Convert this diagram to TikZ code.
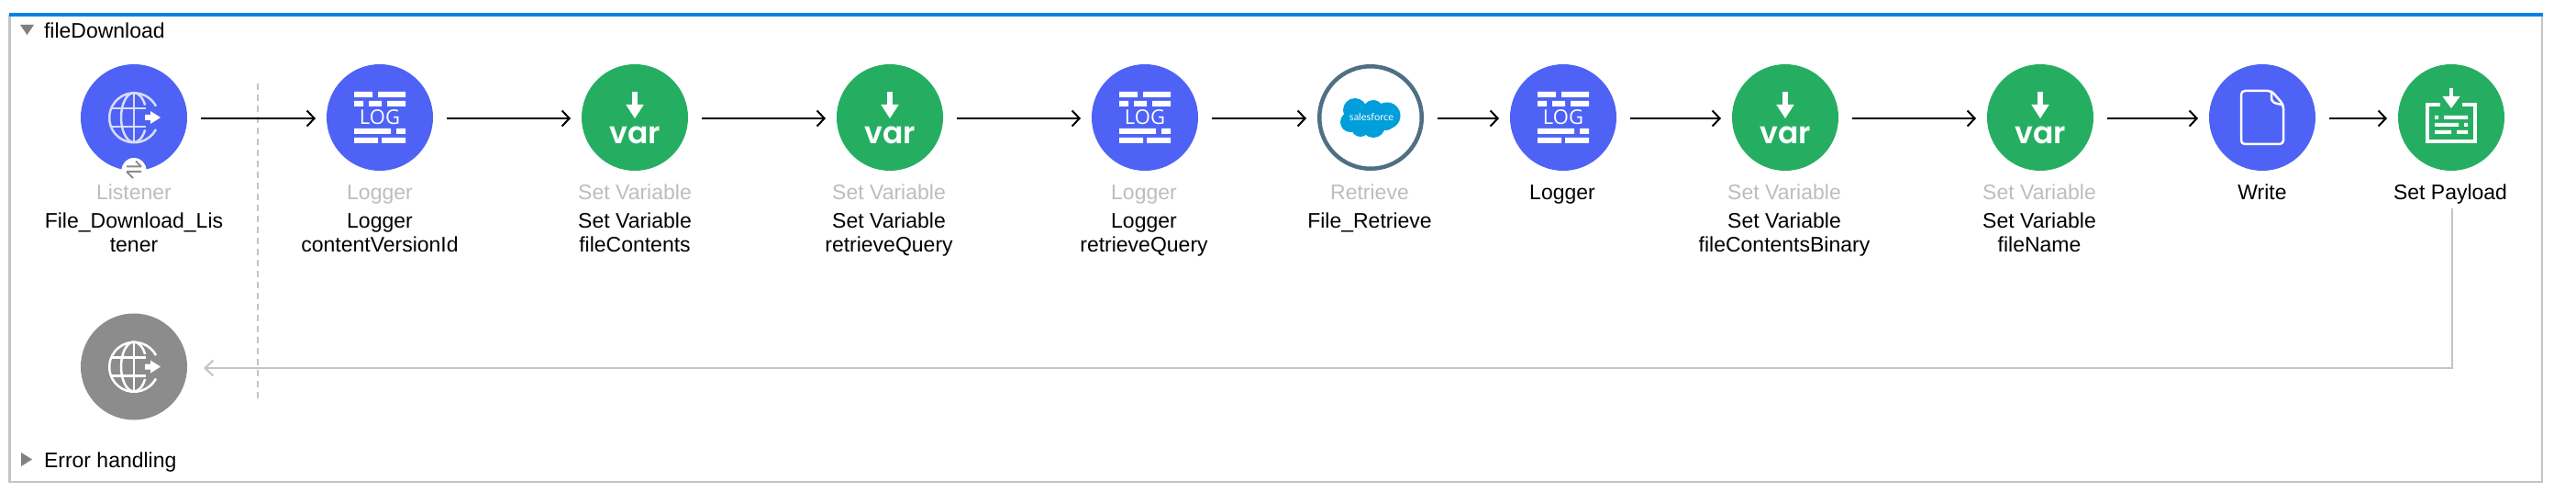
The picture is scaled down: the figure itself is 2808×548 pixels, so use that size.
\documentclass[tikz,border=0pt]{standalone}
\usepackage{fontspec}
\setmainfont{Liberation Sans}
\newfontfamily\varfont{Poppins SemiBold}
\newfontfamily\logfont{Open Sans}
\newfontfamily\sffont{Lato}
\usetikzlibrary{arrows.meta}
\definecolor{muleblue}{HTML}{4E62F5}
\definecolor{mulegreen}{HTML}{25AE62}
\definecolor{ringc}{HTML}{4F6F82}
\definecolor{sfblue}{HTML}{009EDB}
\definecolor{framegrey}{HTML}{C4C4C4}
\definecolor{topblue}{HTML}{0882E4}
\definecolor{globec}{HTML}{D8DCFB}
\tikzset{
  x=1pt,y=-1pt,
  every node/.style={inner sep=0pt,outer sep=0pt},
  bluec/.style={circle,fill=muleblue,minimum size=116pt},
  greenc/.style={circle,fill=mulegreen,minimum size=116pt},
  greyc/.style={circle,fill=black!45,minimum size=116pt},
  ringn/.style={circle,draw=ringc,fill=white,line width=4.5pt,minimum size=111.5pt,outer sep=2.25pt},
  typelabel/.style={anchor=base,text=black!26,font=\fontsize{23}{27}\selectfont},
  namelabel/.style={anchor=base,text=black,font=\fontsize{23}{27}\selectfont},
  flow/.style={draw=black,line width=2pt,shorten <=15pt,shorten >=12pt,-{Straight Barb[length=8pt,width=17pt,line width=2pt]}},
  back/.style={draw=framegrey,line width=2pt,shorten >=18pt,-{Straight Barb[length=9pt,width=17pt,line width=2pt]}},
  logicon/.pic={
    \fill[white]
      (-28,-28) rectangle (-8,-22) (-2,-28) rectangle (28,-22)
      (-28,-18) rectangle (-18,-12) (-12,-18) rectangle (2,-12) (8,-18) rectangle (28,-12)
      (-28,12) rectangle (12,18) (18,12) rectangle (28,18)
      (-28,22) rectangle (-2,28) (2,22) rectangle (28,28);
    \node[text=white,font=\logfont\fontsize{22}{22}\selectfont] at (0,0) {LOG};
  },
  varicon/.pic={
    \fill[white] (-3.3,-28) rectangle (3.3,-13);
    \fill[white] (-9.7,-14) -- (9.7,-14) -- (0,1) -- cycle;
    \node[anchor=base,text=white,font=\varfont\fontsize{33}{33}\selectfont] at (0,29) {var};
  },
  globeicon/.pic={
    \begin{scope}[line width=2.5pt]
      \draw (24,13) arc[start angle=28,end angle=332,radius=27];
      \draw (0,-27) -- (0,27);
      \draw (0,-27) arc[start angle=-90,end angle=-270,x radius=14,y radius=27];
      \draw (0,-27) arc[start angle=-90,end angle=-30,x radius=14,y radius=27];
      \draw (0,27) arc[start angle=90,end angle=30,x radius=14,y radius=27];
      \draw (-24,-10) -- (13,-10) (-24,10) -- (13,10);
    \end{scope}
    \fill[white] (12,-3) -- (18,-3) -- (18,-7) -- (29,0) -- (18,7) -- (18,3) -- (12,3) -- cycle;
  },
  cloudicon/.pic={
    \fill[sfblue] (-17,-8) circle[radius=13];
    \fill[sfblue] (3,-8) circle[radius=11];
    \fill[sfblue] (18,-2) circle[radius=14.5];
    \fill[sfblue] (-22,5) circle[radius=11];
    \fill[sfblue] (-11,11) circle[radius=10];
    \fill[sfblue] (3,9) circle[radius=13];
    \fill[sfblue] (17,5) circle[radius=9];
    \fill[sfblue] (-20,-5) rectangle (20,10);
    \node[text=white,font=\sffont\fontsize{11}{11}\selectfont] at (1,-1) {salesforce};
  },
  fileicon/.pic={
    \draw[white,line width=2.5pt,line join=round,rounded corners=4pt]
      (10,-29) -- (-23,-29) -- (-23,29) -- (23,29) -- (23,-14) -- cycle;
    \draw[white,line width=2.5pt,line join=round] (10,-29) -- (10,-21) .. controls (10,-17) and (13,-15) .. (23,-14);
  },
  payloadicon/.pic={
    \draw[white,line width=4pt] (-12,-14) -- (-26,-14) -- (-26,26) -- (26,26) -- (26,-14) -- (12,-14);
    \fill[white] (-2,-32) rectangle (2,-22);
    \fill[white] (-9.5,-23) -- (9.5,-23) -- (0,-10) -- cycle;
    \fill[white] (-18,-2) rectangle (-14,2) (-8,-2) rectangle (18,2)
      (-18,6) rectangle (8,10) (14,6) rectangle (18,10)
      (-18,14) rectangle (0,18) (6,14) rectangle (18,18);
  }
}
\begin{document}
\begin{tikzpicture}
\useasboundingbox (0,0) rectangle (2808,548);
% frame
\draw[framegrey,line width=2.5pt] (10.5,16) -- (10.5,525) -- (2771,525) -- (2771,16);
\draw[topblue,line width=4pt] (9.5,16) -- (2772,16);
\fill[black!50] (22,27) -- (37,27) -- (29.5,38) -- cycle;
\fill[black!50] (23,493) -- (35,500.5) -- (23,508) -- cycle;
\node[namelabel,anchor=base west] (flowname) at (48,42) {fileDownload};
\node[namelabel,anchor=base west] (errname) at (48,509) {Error handling};
% divider
\draw[framegrey,line width=1.5pt,dash pattern=on 7pt off 5pt] (281,91) -- (281,437);
% nodes
\node[bluec] (a) at (146,128) {};
\node[bluec] (b) at (414,128) {};
\node[greenc] (c) at (692,128) {};
\node[greenc] (d) at (970,128) {};
\node[bluec] (e) at (1248,128) {};
\node[ringn] (f) at (1494,128) {};
\node[bluec] (g) at (1704,128) {};
\node[greenc] (h) at (1946,128) {};
\node[greenc] (i) at (2224,128) {};
\node[bluec] (j) at (2466,128) {};
\node[greenc] (k) at (2672,128) {};
\node[greyc] (r) at (146,399.5) {};
% icons
\pic[globec,text=globec] at (a.center) {globeicon};
\pic at (b.center) {logicon};
\pic at (c.center) {varicon};
\pic at (d.center) {varicon};
\pic at (e.center) {logicon};
\pic at (f.center) {cloudicon};
\pic at (g.center) {logicon};
\pic at (h.center) {varicon};
\pic at (i.center) {varicon};
\pic at (j.center) {fileicon};
\pic at (k.center) {payloadicon};
\pic[white] at (r.center) {globeicon};
% badge
\node[circle,fill=white,minimum size=27pt] (badge) at (146,185.5) {};
\draw[black!45,line width=2pt] (154,181.5) -- (138,181.5) (154,181.5) -- (148,175.5);
\draw[black!45,line width=2pt] (138,187) -- (154,187) (138,187) -- (145,194);
% labels
\node[typelabel] (a1) at (146,218) {Listener};
\node[namelabel] (a2) at (146,248) {File\_Download\_Lis};
\node[namelabel] (a3) at (146,274) {tener};
\node[typelabel] (b1) at (414,218) {Logger};
\node[namelabel] (b2) at (414,248) {Logger};
\node[namelabel] (b3) at (414,274) {contentVersionId};
\node[typelabel] (c1) at (692,218) {Set Variable};
\node[namelabel] (c2) at (692,248) {Set Variable};
\node[namelabel] (c3) at (692,274) {fileContents};
\node[typelabel] (d1) at (969,218) {Set Variable};
\node[namelabel] (d2) at (969,248) {Set Variable};
\node[namelabel] (d3) at (969,274) {retrieveQuery};
\node[typelabel] (e1) at (1247,218) {Logger};
\node[namelabel] (e2) at (1247,248) {Logger};
\node[namelabel] (e3) at (1247,274) {retrieveQuery};
\node[typelabel] (f1) at (1493,218) {Retrieve};
\node[namelabel] (f2) at (1493,248) {File\_Retrieve};
\node[namelabel] (g1) at (1703,218) {Logger};
\node[typelabel] (h1) at (1945,218) {Set Variable};
\node[namelabel] (h2) at (1945,248) {Set Variable};
\node[namelabel] (h3) at (1945,274) {fileContentsBinary};
\node[typelabel] (i1) at (2223,218) {Set Variable};
\node[namelabel] (i2) at (2223,248) {Set Variable};
\node[namelabel] (i3) at (2223,274) {fileName};
\node[namelabel] (j1) at (2466,218) {Write};
\node[namelabel] (k1) at (2671,218) {Set Payload};
% connectors
\foreach \p/\q in {a/b,b/c,c/d,d/e,e/f,f/g,g/h,h/i,i/j,j/k}
  \draw[flow] ([yshift=-1pt]\p.east) -- ([yshift=-1pt]\q.west);
\coordinate (ret) at (2673,227);
\draw[back] (ret) |- ([yshift=-1.5pt]r.east);
\end{tikzpicture}
\end{document}
